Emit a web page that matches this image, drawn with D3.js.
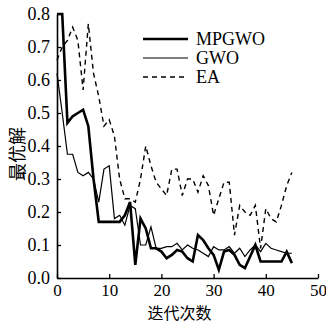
<!DOCTYPE html>
<html>
<head>
<meta charset="utf-8">
<script src="https://cdn.jsdelivr.net/npm/d3@7"></script>
<style>
  body { margin: 0; background: #fff; }
  svg text { font-family: "Liberation Serif", "DejaVu Serif", serif; fill: #000; }
  .cjk { font-family: "Noto Sans CJK SC", sans-serif; }
</style>
</head>
<body>
<div id="chart"></div>
<script>
// values, iteration 0..45
const mpgwo = [0.80, 0.80, 0.47, 0.49, 0.50, 0.51, 0.46, 0.30, 0.17, 0.17,
               0.17, 0.17, 0.17, 0.19, 0.23, 0.04, 0.18, 0.15, 0.09, 0.09,
               0.08, 0.06, 0.07, 0.085, 0.08, 0.06, 0.05, 0.13, 0.115, 0.09,
               0.07, 0.025, 0.08, 0.085, 0.07, 0.04, 0.03, 0.065, 0.10, 0.05,
               0.05, 0.05, 0.05, 0.05, 0.08, 0.045];
const gwo = [0.62, 0.50, 0.375, 0.375, 0.32, 0.31, 0.32, 0.30, 0.23, 0.33,
             0.34, 0.18, 0.19, 0.16, 0.22, 0.21, 0.10, 0.10, 0.155, 0.09,
             0.09, 0.095, 0.095, 0.105, 0.085, 0.10, 0.09, 0.085, 0.075, 0.065,
             0.095, 0.085, 0.085, 0.095, 0.075, 0.09, 0.065, 0.085, 0.10, 0.08,
             0.105, 0.09, 0.085, 0.08, 0.075, 0.075];
const ea = [0.66, 0.70, 0.72, 0.76, 0.72, 0.57, 0.77, 0.62, 0.55, 0.46,
            0.48, 0.43, 0.30, 0.24, 0.24, 0.23, 0.30, 0.40, 0.34, 0.29,
            0.27, 0.25, 0.33, 0.33, 0.25, 0.30, 0.30, 0.26, 0.31, 0.28,
            0.19, 0.24, 0.29, 0.29, 0.13, 0.22, 0.20, 0.19, 0.22, 0.09,
            0.21, 0.18, 0.17, 0.22, 0.28, 0.32];
const seriesNames = ['MPGWO', 'GWO', 'EA'];
const xTicks = [0, 10, 20, 30, 40, 50];
const yTicks = [0, 0.1, 0.2, 0.3, 0.4, 0.5, 0.6, 0.7, 0.8];
const xTitle = '迭代次数';
const yTitle = '最优解';

const width = 326, height = 324;
const margin = { top: 14, right: 8, bottom: 46, left: 57 };
const plotW = width - margin.left - margin.right;
const plotH = height - margin.top - margin.bottom;

const svg = d3.select('#chart').append('svg')
    .attr('width', width)
    .attr('height', height);

const g = svg.append('g')
    .attr('transform', `translate(${margin.left},${margin.top})`);

const x = d3.scaleLinear().domain([0, 50]).range([0, plotW]);
const y = d3.scaleLinear().domain([0, 0.8]).range([plotH, 0]);

const styles = [
    { data: mpgwo, width: 2.6, dash: null },
    { data: gwo, width: 1.2, dash: null },
    { data: ea, width: 1.4, dash: '5,4' }
];

const line = d3.line()
    .x((d, i) => x(i))
    .y(d => y(d));

g.selectAll('path.series')
    .data(styles)
    .join('path')
    .attr('class', 'series')
    .attr('fill', 'none')
    .attr('stroke', '#000')
    .attr('stroke-width', d => d.width)
    .attr('stroke-dasharray', d => d.dash)
    .attr('stroke-linejoin', 'miter')
    .attr('d', d => line(d.data));

// axes with inward ticks
const xAxis = g.append('g')
    .attr('transform', `translate(0,${plotH})`)
    .call(d3.axisBottom(x).tickValues(xTicks).tickSizeInner(-4).tickSizeOuter(0).tickPadding(6));
const yAxis = g.append('g')
    .call(d3.axisLeft(y).tickValues(yTicks).tickSizeInner(-4).tickSizeOuter(0).tickPadding(7)
        .tickFormat(d3.format('.1f')));

[xAxis, yAxis].forEach(a => {
    a.select('.domain').attr('stroke-width', 1.6);
    a.selectAll('.tick line').attr('stroke-width', 1.3);
    a.selectAll('.tick text')
        .style('font-family', '"Liberation Serif", serif')
        .style('font-size', '18px');
});
xAxis.selectAll('.tick text').style('font-size', '17px');

// legend
const legend = g.append('g')
    .attr('transform', `translate(${143 - margin.left},${39 - margin.top})`);
const item = legend.selectAll('g')
    .data(styles)
    .join('g')
    .attr('transform', (d, i) => `translate(0,${i * 19})`);
item.append('line')
    .attr('x1', 0).attr('x2', 45)
    .attr('stroke', '#000')
    .attr('stroke-width', d => d.width)
    .attr('stroke-dasharray', d => d.dash);
item.append('text')
    .attr('x', 53)
    .attr('dy', '0.35em')
    .style('font-size', '18px')
    .text((d, i) => seriesNames[i]);

// axis titles
svg.append('text')
    .attr('class', 'cjk')
    .attr('x', margin.left + plotW * 0.5 - 8)
    .attr('y', 319)
    .attr('text-anchor', 'middle')
    .style('font-size', '16px')
    .text(xTitle);
svg.append('text')
    .attr('class', 'cjk')
    .attr('transform', `translate(24,${margin.top + plotH * 0.53}) rotate(-90)`)
    .attr('text-anchor', 'middle')
    .style('font-size', '18px')
    .text(yTitle);
</script>
</body>
</html>
